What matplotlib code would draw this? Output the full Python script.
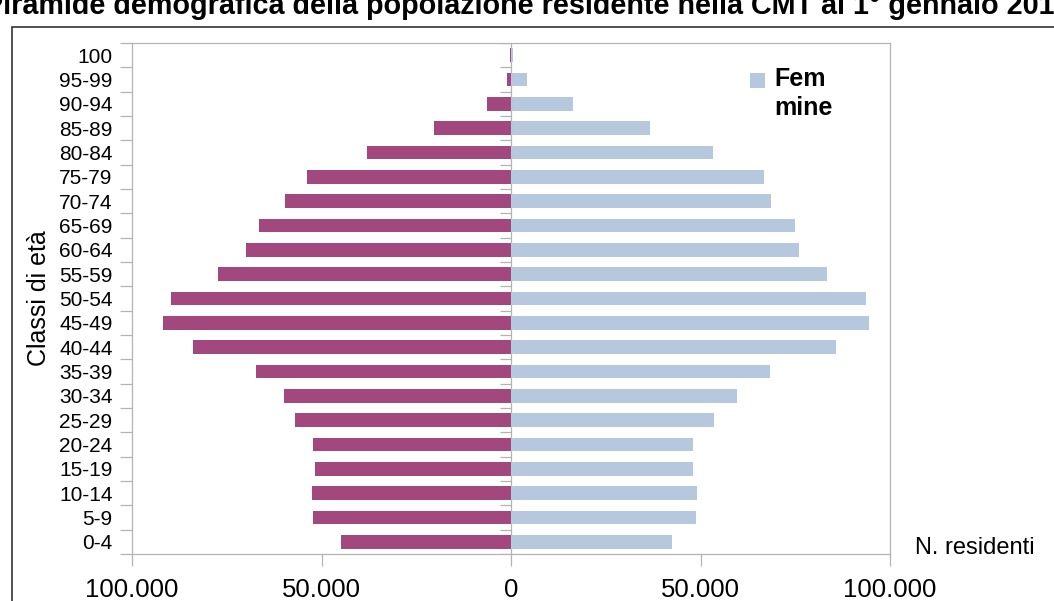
import numpy as np
import matplotlib.pyplot as plt
from matplotlib.patches import Rectangle
from matplotlib.ticker import FuncFormatter, FixedLocator

plt.rcParams['font.family'] = ['Liberation Sans', 'DejaVu Sans']

# --- data ---
classi = ["0-4", "5-9", "10-14", "15-19", "20-24", "25-29", "30-34", "35-39",
          "40-44", "45-49", "50-54", "55-59", "60-64", "65-69", "70-74",
          "75-79", "80-84", "85-89", "90-94", "95-99", "100"]
maschi = [44900, 52200, 52500, 51700, 52200, 57000, 59900, 67300, 83900, 91800,
          89700, 77300, 69900, 66500, 59600, 53800, 38000, 20300, 6300, 1100, 200]
femmine = [42500, 48800, 49100, 48000, 48000, 53600, 59600, 68300, 85800, 94500,
           93700, 83400, 76000, 74900, 68600, 66800, 53300, 36700, 16400, 4200, 500]

c_m = "#a2487f"
c_f = "#b5c8de"
grey = "#b3b3b3"

W, H = 1054, 601
fig = plt.figure(figsize=(W / 100, H / 100), dpi=100)

# outer chart frame (clipped at right/bottom)
fig.patches.append(Rectangle((12 / W, -0.1), 1.2, (601 - 27) / H + 0.1,
                             transform=fig.transFigure, fill=False,
                             edgecolor="#333333", lw=1.2))

ax = fig.add_axes([132 / W, 47 / H, (890 - 132) / W, (554 - 43) / H])
y = np.arange(len(classi))
ax.barh(y, [-v for v in maschi], height=0.57, color=c_m, label="Maschi", zorder=3)
ax.barh(y, femmine, height=0.57, color=c_f, label="Femmine", zorder=3)

ax.set_xlim(-100000, 100000)
ax.set_ylim(-0.5, len(classi) - 0.5)
ax.set_yticks(y)
ax.set_yticklabels(classi, fontsize=15)
ax.yaxis.set_minor_locator(FixedLocator(np.arange(-0.5, len(classi), 1.0)))
ax.tick_params(axis="y", which="major", length=0, pad=14)
ax.tick_params(axis="y", which="minor", length=8.5, color=grey, width=0.9)
ax.set_xticks([-100000, -50000, 0, 50000, 100000])
ax.xaxis.set_major_formatter(FuncFormatter(lambda v, p: f"{abs(int(v)):,}".replace(",", ".")))
ax.tick_params(axis="x", length=8.5, color=grey, width=0.9, labelsize=18.5, pad=9)
for s in ax.spines.values():
    s.set_color(grey)
    s.set_linewidth(0.9)

# vertical axis at zero with short tick marks
ax.axvline(0, color=grey, lw=0.9, zorder=2)
ax.hlines(np.arange(-0.5, len(classi), 1.0), -3000, 0, color=grey, lw=0.9, zorder=2)

ax.set_ylabel("Classi di età", fontsize=18, labelpad=6)
fig.text(915 / W, (601 - 548) / H, "N. residenti", fontsize=17, va="center", ha="left")

# legend (only the female entry is visible)
ax.add_patch(Rectangle((750 / W, (601 - 88) / H), 15 / W, 15 / H, transform=fig.transFigure,
                       facecolor=c_f, edgecolor="none", clip_on=False))
fig.text(774 / W, (601 - 67) / H, "Fem\nmine", fontsize=18, fontweight="bold",
         va="top", ha="left", linespacing=1.25)

fig.text(527 / W, (601 - 14) / H,
         "Piramide demografica della popolazione residente nella CMT al 1° gennaio 2018",
         fontsize=20.7, fontweight="bold", ha="center", va="baseline")

fig.savefig("out.png", dpi=100)
